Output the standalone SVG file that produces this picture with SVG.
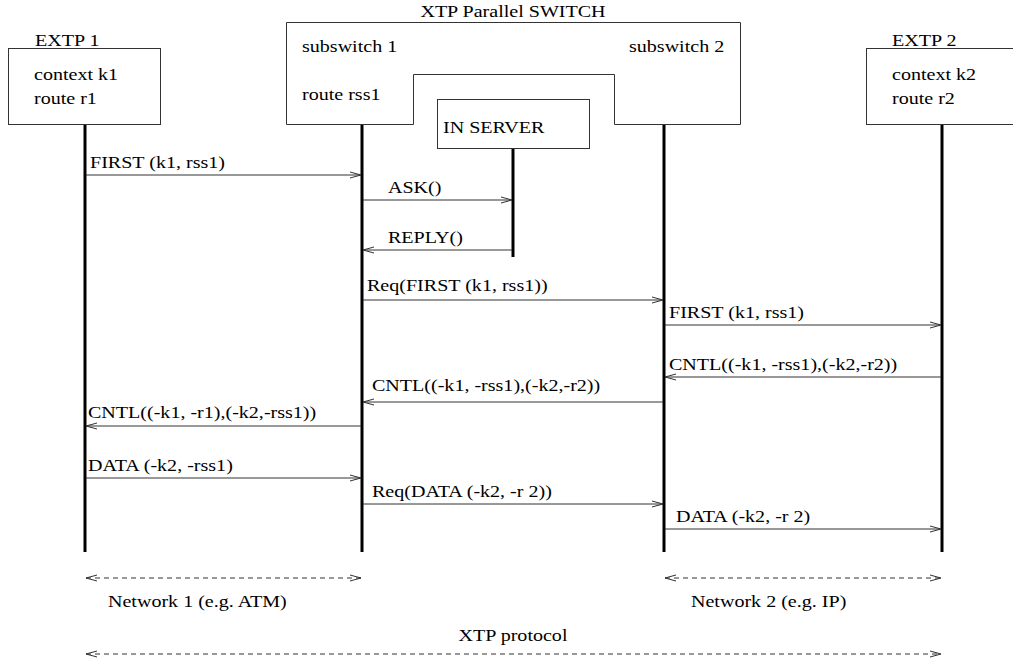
<svg xmlns="http://www.w3.org/2000/svg" width="1013" height="661" viewBox="0 0 1013 661" font-family="'Liberation Serif', 'DejaVu Serif', serif">
<style>
text{font-family:"Liberation Serif","DejaVu Serif",serif;font-size:17px;fill:#000}
.box{fill:#fff;stroke:#333;stroke-width:1}
.life{stroke:#000;stroke-width:3}
.msg{stroke:#333;stroke-width:1;fill:none;marker-end:url(#ah)}
.dash{stroke:#333;stroke-width:1;fill:none;stroke-dasharray:5 4;marker-start:url(#ahs);marker-end:url(#ah)}
</style>
<defs>
<marker id="ah" viewBox="0 0 12 8" refX="11" refY="4" markerWidth="12" markerHeight="8" markerUnits="userSpaceOnUse" orient="auto">
<path d="M0,1 L11,4 L0,7" fill="none" stroke="#333" stroke-width="1"/>
</marker>
<marker id="ahs" viewBox="0 0 12 8" refX="1" refY="4" markerWidth="12" markerHeight="8" markerUnits="userSpaceOnUse" orient="auto">
<path d="M12,1 L1,4 L12,7" fill="none" stroke="#333" stroke-width="1"/>
</marker>
</defs>
<g id="extp1">
<text transform="translate(35,46) scale(1.18,1)">EXTP 1</text>
<rect class="box" x="8.5" y="48.5" width="152" height="76"/>
<text transform="translate(34,80) scale(1.18,1)">context k1</text>
<text transform="translate(34,104) scale(1.18,1)">route r1</text>
<line class="life" x1="85" y1="125" x2="85" y2="552"/>
</g>
<g id="switch">
<text transform="translate(513,17) scale(1.18,1)" text-anchor="middle">XTP Parallel SWITCH</text>
<polygon class="box" points="286.5,22.5 740.5,22.5 740.5,124.5 614.5,124.5 614.5,74.5 413.5,74.5 413.5,124.5 286.5,124.5"/>
<text transform="translate(302,52) scale(1.18,1)">subswitch 1</text>
<text transform="translate(302,100) scale(1.18,1)">route rss1</text>
<text transform="translate(629,52) scale(1.18,1)">subswitch 2</text>
<line class="life" x1="362" y1="125" x2="362" y2="552"/>
<line class="life" x1="664" y1="125" x2="664" y2="552"/>
</g>
<g id="inserver">
<rect class="box" x="437.5" y="99.5" width="152" height="49"/>
<text transform="translate(443,133) scale(1.18,1)">IN SERVER</text>
<line class="life" x1="513" y1="149" x2="513" y2="257"/>
</g>
<g id="extp2">
<text transform="translate(892,46) scale(1.18,1)">EXTP 2</text>
<rect class="box" x="866.5" y="48.5" width="150" height="76"/>
<text transform="translate(892,80) scale(1.18,1)">context k2</text>
<text transform="translate(892,104) scale(1.18,1)">route r2</text>
<line class="life" x1="942" y1="125" x2="942" y2="552"/>
</g>
<g id="connectors">
<line class="msg" x1="86" y1="175" x2="361" y2="175"/>
<text transform="translate(90,168) scale(1.18,1)">FIRST (k1, rss1)</text>
<line class="msg" x1="363" y1="200" x2="512" y2="200"/>
<text transform="translate(388,193) scale(1.18,1)">ASK()</text>
<line class="msg" x1="512" y1="250" x2="363" y2="250"/>
<text transform="translate(388,243) scale(1.18,1)">REPLY()</text>
<line class="msg" x1="363" y1="300" x2="663" y2="300"/>
<text transform="translate(367,291) scale(1.18,1)">Req(FIRST (k1, rss1))</text>
<line class="msg" x1="665" y1="325" x2="941" y2="325"/>
<text transform="translate(669,318) scale(1.18,1)">FIRST (k1, rss1)</text>
<line class="msg" x1="941" y1="377" x2="665" y2="377"/>
<text transform="translate(669,370) scale(1.18,1)">CNTL((-k1, -rss1),(-k2,-r2))</text>
<line class="msg" x1="663" y1="402" x2="363" y2="402"/>
<text transform="translate(372,391) scale(1.18,1)">CNTL((-k1, -rss1),(-k2,-r2))</text>
<line class="msg" x1="361" y1="426" x2="86" y2="426"/>
<text transform="translate(88,418) scale(1.18,1)">CNTL((-k1, -r1),(-k2,-rss1))</text>
<line class="msg" x1="86" y1="478" x2="361" y2="478"/>
<text transform="translate(88,471) scale(1.18,1)">DATA (-k2, -rss1)</text>
<line class="msg" x1="363" y1="504" x2="663" y2="504"/>
<text transform="translate(372,497) scale(1.18,1)">Req(DATA (-k2, -r 2))</text>
<line class="msg" x1="665" y1="529" x2="941" y2="529"/>
<text transform="translate(676,522) scale(1.18,1)">DATA (-k2, -r 2)</text>
<line class="dash" x1="86" y1="578" x2="361" y2="578"/>
<text transform="translate(108,607) scale(1.18,1)">Network 1 (e.g. ATM)</text>
<line class="dash" x1="665" y1="578" x2="941" y2="578"/>
<text transform="translate(691,607) scale(1.18,1)">Network 2 (e.g. IP)</text>
<line class="dash" x1="86" y1="654" x2="941" y2="654"/>
<text transform="translate(513,641) scale(1.18,1)" text-anchor="middle">XTP protocol</text>
</g>
</svg>
